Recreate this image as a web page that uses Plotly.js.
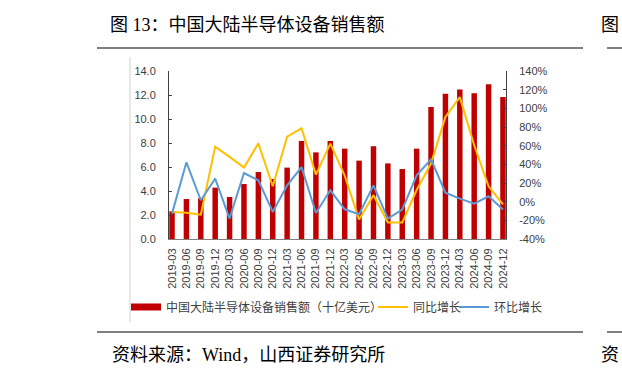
<!DOCTYPE html>
<html>
<head>
<meta charset="utf-8">
<script src="https://cdn.plot.ly/plotly-3.0.1.min.js"></script>
<style>html,body{margin:0;padding:0;background:#fff;}#chart{width:622px;height:379px;}</style>
</head>
<body>
<div id="chart"></div>
<script>
const quarters = ["2019-03","2019-06","2019-09","2019-12","2020-03","2020-06","2020-09","2020-12",
  "2021-03","2021-06","2021-09","2021-12","2022-03","2022-06","2022-09","2022-12",
  "2023-03","2023-06","2023-09","2023-12","2024-03","2024-06","2024-09","2024-12"];
const sales = [2.3,3.33,3.4,4.28,3.5,4.58,5.58,5.0,5.95,8.17,7.22,8.17,7.53,6.53,7.73,6.3,5.83,7.53,11.0,12.1,12.45,12.14,12.9,11.83];
const yoy = [-11,-12,-14,59,48,36.5,62.5,16.5,69.7,78.6,29,62.2,28,-19.2,6.8,-22.4,-22.4,12.5,40.8,90.7,112,60.4,16.5,-2.8];
const qoq = [-12.8,42.2,1.5,24.7,-18.1,30.7,22.9,-11,17.5,37.1,-12.1,12.2,-8.2,-13.5,17.5,-18.1,-8.5,28.2,45.4,9.7,3.3,-2.1,5.8,-8.5];
const names = ["中国大陆半导体设备销售额（十亿美元）","同比增长","环比增长"];
const leftTicks = [0,2,4,6,8,10,12,14];
const rightTicks = [-40,-20,0,20,40,60,80,100,120,140];
const rightTickText = rightTicks.map(v => v + "%");

const W = 622, H = 379;
const L = 169, R = 506, T = 71, B = 239;
const px = x => (x - L) / (R - L);
const py = y => (B - y) / (B - T);

const RED = "#C00000", YEL = "#FFC000", BLU = "#5B9BD5";
const tickFont = {family: "Liberation Sans, Arial, sans-serif", size: 11, color: "#404040"};
const cjk = "Liberation Serif, Noto Sans CJK SC, serif";
const legFont = {family: "Noto Sans CJK SC, sans-serif", size: 12, color: "#404040"};

const traces = [
  {type: "bar", x: quarters, y: sales, name: names[0], marker: {color: RED}, width: 0.38, showlegend: false, yaxis: "y"},
  {type: "scatter", mode: "lines", x: [null], y: [null], name: names[0], line: {color: RED, width: 7}, showlegend: true, yaxis: "y", legend: "legend"},
  {type: "scatter", mode: "lines", x: quarters, y: yoy, name: names[1], line: {color: YEL, width: 2}, yaxis: "y2", legend: "legend2"},
  {type: "scatter", mode: "lines", x: quarters, y: qoq, name: names[2], line: {color: BLU, width: 2}, yaxis: "y2", legend: "legend3"}
];

const legBase = {orientation: "h", xanchor: "left", y: py(307), yanchor: "middle", font: legFont, bgcolor: "rgba(0,0,0,0)", itemwidth: 30};

const layout = {
  width: W, height: H,
  margin: {l: L, r: W - R, t: T, b: H - B},
  paper_bgcolor: "#fff", plot_bgcolor: "#fff",
  showlegend: true,
  title: {text: "图 13：中国大陆半导体设备销售额", font: {family: cjk, size: 18, color: "#000"},
    x: 110 / W, xanchor: "left", xref: "container", y: 1 - 25 / H, yanchor: "middle", yref: "container"},
  xaxis: {type: "category", range: [-0.21, 23.21], tickangle: -90, tickfont: tickFont,
    showline: true, linecolor: "#808080", linewidth: 1, ticks: "", showgrid: false, zeroline: false,
    ticklabelstandoff: 4},
  yaxis: {range: [0, 14], tickvals: leftTicks, tickformat: ".1f", tickfont: tickFont,
    showline: true, linecolor: "#404040", linewidth: 1, ticks: "inside", ticklen: 3, tickcolor: "#404040",
    showgrid: false, zeroline: false, ticklabelstandoff: 10},
  yaxis2: {range: [-40, 140], tickmode: "array", tickvals: rightTicks, ticktext: rightTickText, tickfont: tickFont, overlaying: "y", side: "right",
    showline: true, linecolor: "#404040", linewidth: 1, ticks: "inside", ticklen: 3, tickcolor: "#404040",
    showgrid: false, zeroline: false, ticklabelstandoff: 10},
  legend: Object.assign({}, legBase, {x: px(126)}),
  legend2: Object.assign({}, legBase, {x: px(373)}),
  legend3: Object.assign({}, legBase, {x: px(454)}),
  shapes: [
    {type: "line", xref: "paper", yref: "paper", x0: px(97), x1: px(583), y0: py(48), y1: py(48), line: {color: "#7f7f7f", width: 2}},
    {type: "line", xref: "paper", yref: "paper", x0: px(607), x1: px(622), y0: py(48), y1: py(48), line: {color: "#7f7f7f", width: 2}},
    {type: "line", xref: "paper", yref: "paper", x0: px(97), x1: px(583), y0: py(332), y1: py(332), line: {color: "#000", width: 1}},
    {type: "line", xref: "paper", yref: "paper", x0: px(607), x1: px(622), y0: py(332), y1: py(332), line: {color: "#000", width: 1}},
    {type: "line", xref: "paper", yref: "paper", x0: px(130), x1: px(130), y0: py(57), y1: py(322), line: {color: "#d0d0d0", width: 1}}
  ],
  annotations: [
    {text: "资料来源：Wind，山西证券研究所", xref: "paper", yref: "paper", x: px(110), y: py(355), xanchor: "left", yanchor: "middle",
      showarrow: false, font: {family: cjk, size: 18, color: "#000"}},
    {text: "图", xref: "paper", yref: "paper", x: px(621), y: py(25), xanchor: "right", yanchor: "middle",
      showarrow: false, font: {family: cjk, size: 18, color: "#000"}},
    {text: "资", xref: "paper", yref: "paper", x: px(621), y: py(355), xanchor: "right", yanchor: "middle",
      showarrow: false, font: {family: cjk, size: 18, color: "#000"}}
  ]
};

Plotly.newPlot("chart", traces, layout, {displayModeBar: false, staticPlot: true});
</script>
</body>
</html>
